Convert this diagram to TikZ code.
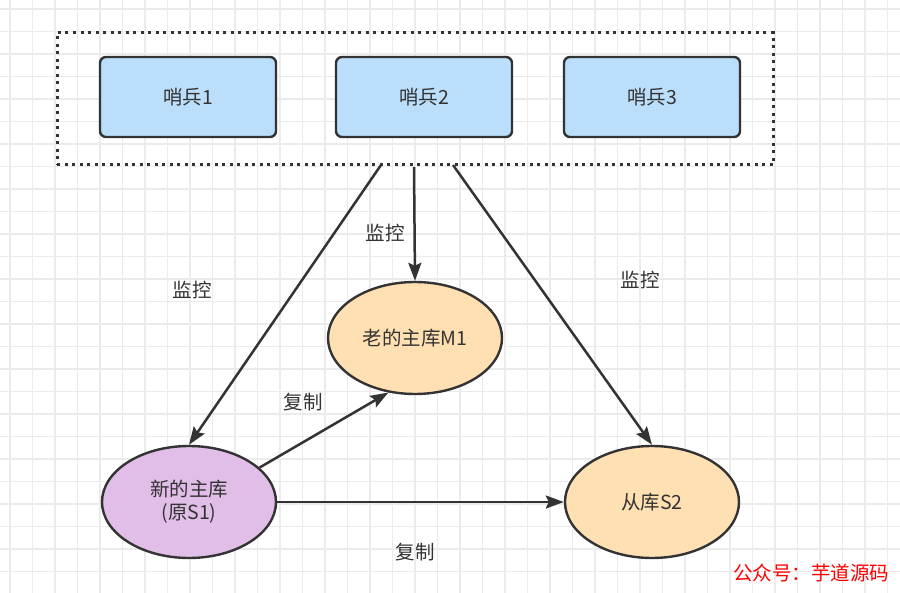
\documentclass[tikz,border=0pt]{standalone}
\usepackage{fontspec}
\setmainfont{Noto Sans CJK SC}
\usetikzlibrary{arrows.meta, positioning, shapes.geometric}
\definecolor{textgray}{HTML}{333333}
\definecolor{gridgray}{HTML}{EBEBEB}
\definecolor{sentinelblue}{HTML}{BBDEFB}
\definecolor{masterorange}{HTML}{FFE0B2}
\definecolor{newpurple}{HTML}{E1BEE7}
\tikzset{
    sentinel/.style ={rectangle, draw=textgray, line width=2.4pt, rounded corners=6pt,
                      fill=sentinelblue, minimum width=176pt, minimum height=80pt},
    db/.style ={ellipse, draw=textgray, line width=2.4pt, minimum width=174pt,
                minimum height=112pt, align=center},
    group/.style ={rectangle, draw=textgray, line width=3pt, dash pattern=on 3pt off 4.5pt,
                   minimum width=716pt, minimum height=132pt},
    lbl/.style ={text=textgray, font=\fontsize{19.5}{23}\selectfont},
    link/.style ={->, draw=textgray, line width=2.5pt},
    gridline/.style ={draw=gridgray, line width=1.2pt}
    }

\begin{document}
\begin{tikzpicture}[
      x=1pt, y=-1pt,
      > = {Stealth[length=18pt, width=13pt, inset=3pt]}, % arrow head style
      every node/.style={text=textgray, font=\fontsize{19.5}{23}\selectfont}
    ]
    \useasboundingbox (0,0) rectangle (900,593);

    % background grid
    \foreach \gx in {0,...,39} \draw[gridline] (10+22.5*\gx,0) -- (10+22.5*\gx,593);
    \foreach \gy in {0,...,26} \draw[gridline] (0,9+22.5*\gy) -- (900,9+22.5*\gy);

    \node[group] (group) at (415,99) {};
    \node[sentinel] (s1) at (188,97) {哨兵1};
    \node[sentinel] (s2) at (424,97) {哨兵2};
    \node[sentinel] (s3) at (652,97) {哨兵3};

    \node[db, fill=masterorange] (m1) at (415,338) {老的主库M1};
    \node[db, fill=newpurple] (new) at (189,502) {新的主库\\(原S1)};
    \node[db, fill=masterorange] (slave) at (652,502) {从库S2};

    \coordinate (wl) at (381,165);
    \coordinate (wm) at (414,167);
    \coordinate (wr) at (453,165);

    \path (wl) edge[link] (new.north);
    \path (wm) edge[link] (m1.north);
    \path (wr) edge[link] (slave.north);
    \path (new.26) edge[link] (m1.244);
    \path (new.east) edge[link] (slave.west);

    \node[lbl] (watchl) at (192,290) {监控};
    \node[lbl] (watchm) at (385,233) {监控};
    \node[lbl] (watchr) at (640,280) {监控};
    \node[lbl] (copym) at (303,402) {复制};
    \node[lbl] (copys) at (415,552) {复制};

    \node[text=red, font=\fontsize{19.5}{23}\selectfont] (mark) at (811,573) {公众号：芋道源码};
\end{tikzpicture}
\end{document}
